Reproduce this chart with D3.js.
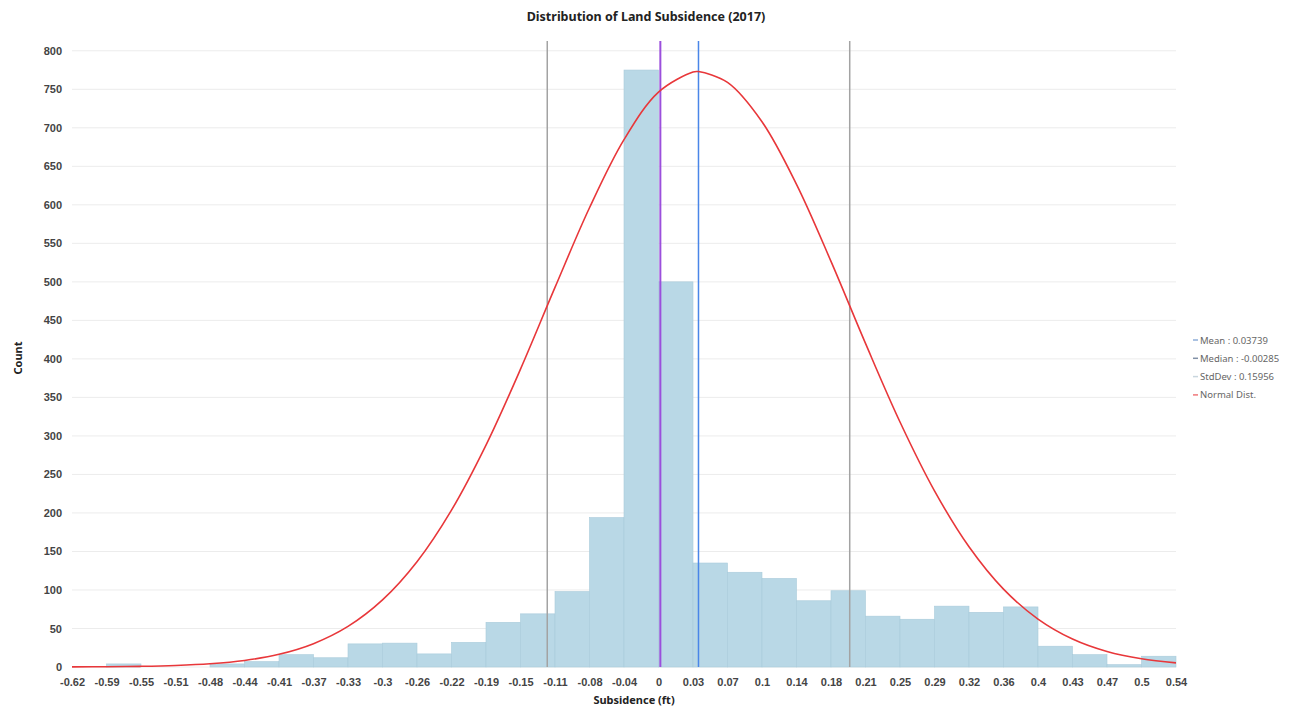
<!DOCTYPE html>
<html>
<head>
<meta charset="utf-8">
<script src="https://cdn.jsdelivr.net/npm/d3@7"></script>
<style>
  body { margin: 0; background: #fff; font-family: "Noto Sans", "Open Sans", sans-serif; }
  .tick text { font-size: 11px; font-weight: 600; fill: #444; }
</style>
</head>
<body>
<div class="chart"></div>
<script>
// histogram bin edges (ft) and counts
const binEdges = [-0.6236, -0.5872, -0.5508, -0.5144, -0.478, -0.4416, -0.4052, -0.3688, -0.3324,
  -0.296, -0.2596, -0.2232, -0.1868, -0.1504, -0.114, -0.0776, -0.0412, -0.0048, 0.0316, 0.068,
  0.1044, 0.1408, 0.1772, 0.2136, 0.25, 0.2864, 0.3228, 0.3592, 0.3956, 0.432, 0.4684, 0.5048, 0.5412]
const counts = [0, 4, 0, 0, 4, 7, 16, 12, 30, 31, 17, 32, 58, 69, 98, 194, 775, 500,
  135, 123, 115, 86, 99, 66, 62, 79, 71, 78, 27, 16, 3, 14]
const xTickLabels = ["-0.62", "-0.59", "-0.55", "-0.51", "-0.48", "-0.44", "-0.41", "-0.37", "-0.33",
  "-0.3", "-0.26", "-0.22", "-0.19", "-0.15", "-0.11", "-0.08", "-0.04", "0", "0.03", "0.07",
  "0.1", "0.14", "0.18", "0.21", "0.25", "0.29", "0.32", "0.36", "0.4", "0.43", "0.47", "0.5", "0.54"]

// normal distribution line
const curveX = [-0.6236, -0.5872, -0.5508, -0.5144, -0.478, -0.4416, -0.4052, -0.3688, -0.3324,
  -0.296, -0.2596, -0.2232, -0.1868, -0.1504, -0.114, -0.0776, -0.0412, -0.0048, 0.0316, 0.03739, 0.068,
  0.1044, 0.1408, 0.1772, 0.2136, 0.25, 0.2864, 0.3228, 0.3592, 0.3956, 0.432, 0.4684, 0.5048, 0.5412]
const curveY = [0.2, 0.4, 0.9, 2, 4.2, 8.5, 16.5, 30.3, 52.7, 87.1, 136.7, 203.7, 288.1, 386.7,
  492.8, 596.2, 684.7, 746.4, 772.5, 773, 758.9, 707.8, 626.6, 526.6, 420.1, 318.1, 228.7, 156.1,
  101.1, 62.2, 36.3, 20.1, 10.6, 5.3]

const mean = 0.03739
const median = -0.00285
const stdDev = 0.15956

const legendLabels = ["Mean : 0.03739", "Median : -0.00285", "StdDev : 0.15956", "Normal Dist."]
const legendColors = ["#8eaed8", "#8190a6", "#c9d6de", "#f0787a"]

const width = 1293, height = 707
const margin = ({top: 40, right: 117, bottom: 40, left: 72})

const xScale = d3.scaleLinear()
    .domain([binEdges[0], binEdges[binEdges.length - 1]])
    .range([margin.left, width - margin.right])

const yScale = d3.scaleLinear()
    .domain([0, 814])
    .range([height - margin.bottom, margin.top])

const svg = d3.select(".chart").append("svg")
    .attr("width", width)
    .attr("height", height)

// grid
svg.append("g")
    .selectAll("line")
    .data(d3.range(0, 801, 50))
    .enter()
    .append("line")
        .attr("x1", xScale.range()[0])
        .attr("x2", xScale.range()[1])
        .attr("y1", d => yScale(d))
        .attr("y2", d => yScale(d))
        .attr("stroke", "#ececec")
        .attr("stroke-width", 1)

// bars
svg.append("g")
    .selectAll("rect")
    .data(counts)
    .enter()
    .append("rect")
        .attr("x", (d, i) => xScale(binEdges[i]))
        .attr("width", (d, i) => xScale(binEdges[i + 1]) - xScale(binEdges[i]))
        .attr("y", d => yScale(d))
        .attr("height", d => yScale(0) - yScale(d))
        .attr("fill", "#b9d8e6")
        .attr("stroke", "#a9cbdb")
        .attr("stroke-width", 0.6)

// stat lines
const statLines = [
    {v: mean - stdDev, color: "#a3a3a3", w: 1.5},
    {v: mean + stdDev, color: "#a3a3a3", w: 1.5},
    {v: median, color: "#9b4fdc", w: 2},
    {v: mean, color: "#4a86e8", w: 1.5}
]
svg.append("g")
    .selectAll("line")
    .data(statLines)
    .enter()
    .append("line")
        .attr("x1", d => xScale(d.v))
        .attr("x2", d => xScale(d.v))
        .attr("y1", margin.top + 1)
        .attr("y2", yScale(0))
        .attr("stroke", d => d.color)
        .attr("stroke-width", d => d.w)

// normal curve
const line = d3.line()
    .x(d => xScale(d[0]))
    .y(d => yScale(d[1]))
    .curve(d3.curveCatmullRom)

svg.append("path")
    .datum(d3.zip(curveX, curveY))
    .attr("d", line)
    .attr("fill", "none")
    .attr("stroke", "#e8373a")
    .attr("stroke-width", 1.6)

// axes
const xAxis = d3.axisBottom(xScale)
    .tickValues(binEdges)
    .tickFormat((d, i) => xTickLabels[i])
    .tickSize(0)
    .tickPadding(11)

svg.append("g")
    .attr("transform", `translate(0, ${yScale(0)})`)
    .call(xAxis)
    .call(g => g.select(".domain").remove())

const yAxis = d3.axisLeft(yScale)
    .tickValues(d3.range(0, 801, 50))
    .tickSize(0)
    .tickPadding(10)

svg.append("g")
    .attr("transform", `translate(${margin.left}, 0)`)
    .call(yAxis)
    .call(g => g.select(".domain").remove())

// titles
svg.append("text")
    .attr("x", 646)
    .attr("y", 21)
    .attr("text-anchor", "middle")
    .style("font-size", "12.5px")
    .style("font-weight", 700)
    .style("fill", "#222")
    .text("Distribution of Land Subsidence (2017)")

svg.append("text")
    .attr("x", 634)
    .attr("y", 704)
    .attr("text-anchor", "middle")
    .style("font-size", "11px")
    .style("font-weight", 700)
    .style("fill", "#222")
    .text("Subsidence (ft)")

svg.append("text")
    .attr("transform", "translate(22, 358) rotate(-90)")
    .attr("text-anchor", "middle")
    .style("font-size", "11px")
    .style("font-weight", 700)
    .style("fill", "#222")
    .text("Count")

// legend
const legend = svg.append("g")
    .attr("transform", "translate(1193, 340)")

legend.selectAll("line")
    .data(legendLabels)
    .enter()
    .append("line")
        .attr("x1", 0)
        .attr("x2", 5)
        .attr("y1", (_, i) => i * 18.3)
        .attr("y2", (_, i) => i * 18.3)
        .attr("stroke", (_, i) => legendColors[i])
        .attr("stroke-width", 1.5)

legend.selectAll("text")
    .data(legendLabels)
    .enter()
    .append("text")
        .attr("x", 7)
        .attr("y", (_, i) => i * 18.3 + 3.5)
        .style("font-size", "9.5px")
        .style("fill", "#666")
        .text(d => d)
</script>
</body>
</html>
